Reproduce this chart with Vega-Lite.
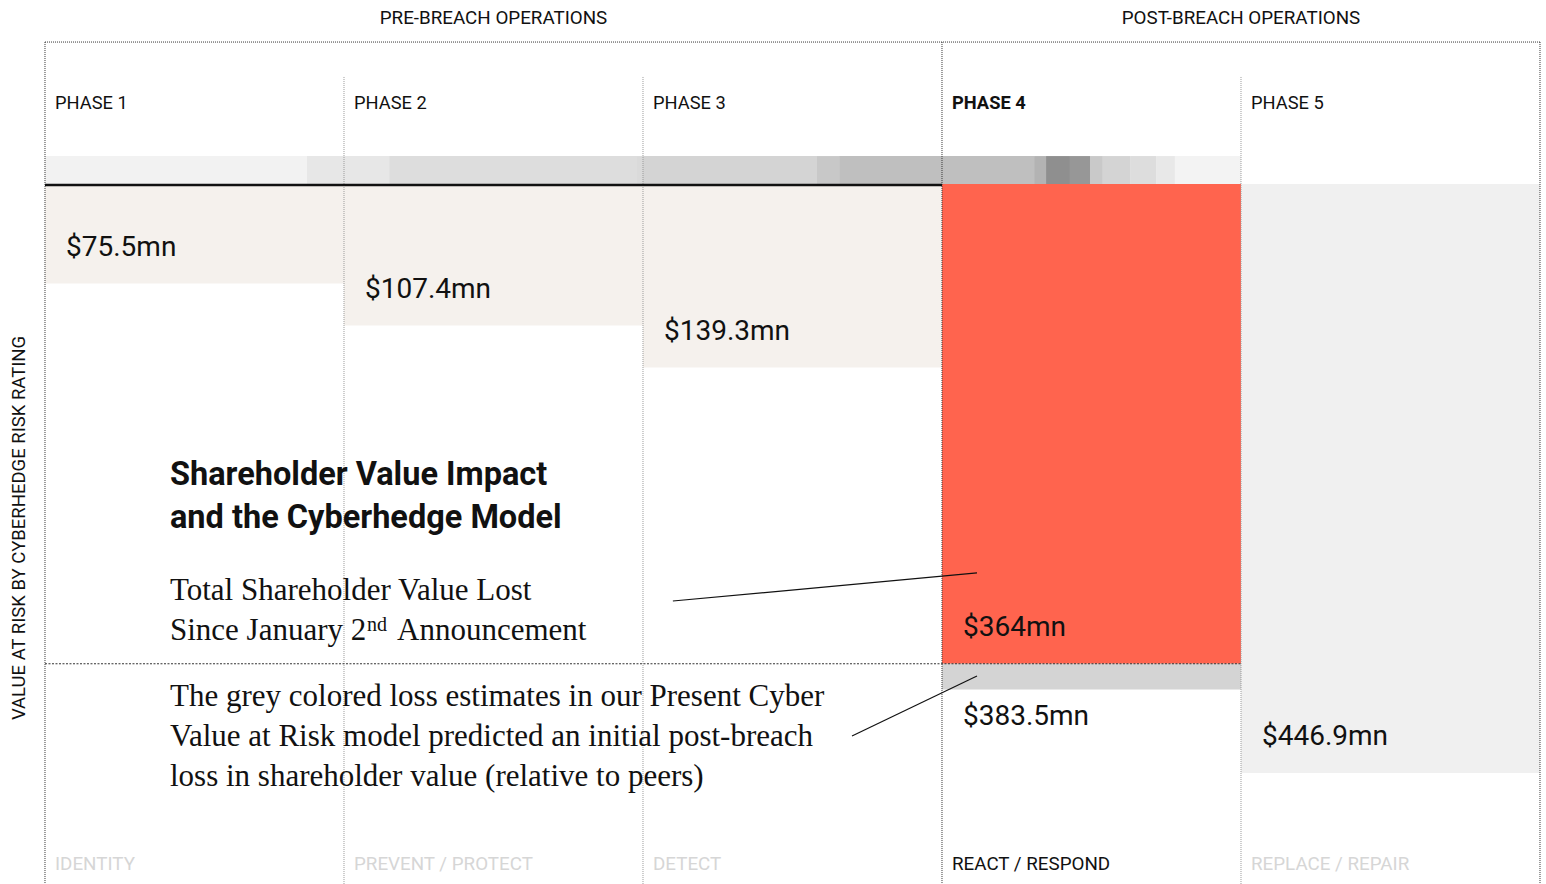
{
  "$schema": "https://vega.github.io/schema/vega-lite/v6.json",
  "width": 1546,
  "height": 884,
  "autosize": "none",
  "padding": 0,
  "background": "white",
  "config": {"view": {"stroke": null}},
  "resolve": {"scale": {"color": "independent"}},
  "datasets": {
    "strip": [
      {"start": 0, "end": 0.876, "rating": 13},
      {"start": 0.876, "end": 1.151, "rating": 24},
      {"start": 1.151, "end": 1.98, "rating": 34},
      {"start": 1.98, "end": 2.0, "rating": 37},
      {"start": 2.0, "end": 2.582, "rating": 43},
      {"start": 2.582, "end": 2.656, "rating": 55},
      {"start": 2.656, "end": 3.308, "rating": 64},
      {"start": 3.308, "end": 3.348, "rating": 76},
      {"start": 3.348, "end": 3.428, "rating": 112},
      {"start": 3.428, "end": 3.495, "rating": 104},
      {"start": 3.495, "end": 3.538, "rating": 54},
      {"start": 3.538, "end": 3.629, "rating": 43},
      {"start": 3.629, "end": 3.716, "rating": 34},
      {"start": 3.716, "end": 3.779, "rating": 23},
      {"start": 3.779, "end": 4.0, "rating": 12}
    ],
    "bars": [
      {"phase": 1, "x0": 0, "x1": 1, "low": 0, "high": 75.5, "kind": "pre", "label": "$75.5mn"},
      {"phase": 2, "x0": 1, "x1": 2, "low": 0, "high": 107.4, "kind": "pre", "label": "$107.4mn"},
      {"phase": 3, "x0": 2, "x1": 3, "low": 0, "high": 139.3, "kind": "pre", "label": "$139.3mn"},
      {"phase": 4, "x0": 3, "x1": 4, "low": 0, "high": 364, "kind": "actual", "label": "$364mn"},
      {"phase": 4, "x0": 3, "x1": 4, "low": 364, "high": 383.5, "kind": "model", "label": "$383.5mn"},
      {"phase": 5, "x0": 4, "x1": 5, "low": 0, "high": 446.9, "kind": "projected", "label": "$446.9mn"}
    ],
    "phases": [
      {"phase": 1, "name": "PHASE 1", "function": "IDENTITY", "start": 0},
      {"phase": 2, "name": "PHASE 2", "function": "PREVENT / PROTECT", "start": 1},
      {"phase": 3, "name": "PHASE 3", "function": "DETECT", "start": 2},
      {"phase": 4, "name": "PHASE 4", "function": "REACT / RESPOND", "start": 3},
      {"phase": 5, "name": "PHASE 5", "function": "REPLACE / REPAIR", "start": 4}
    ],
    "frame": [{"boundary": 0}, {"boundary": 3}, {"boundary": 5}],
    "dividers": [{"boundary": 1}, {"boundary": 2}, {"boundary": 4}],
    "groups": [
      {"text": "PRE-BREACH OPERATIONS", "center": 1.5},
      {"text": "POST-BREACH OPERATIONS", "center": 4}
    ]
  },
  "layer": [
    {
      "data": {"name": "strip"},
      "mark": {"type": "rect"},
      "encoding": {
        "x": {"field": "start", "type": "quantitative", "scale": {"type": "linear", "domain": [-0.1505, 5.0201], "nice": false, "zero": false}, "axis": null},
        "x2": {"field": "end"},
        "y": {"datum": -21.2, "scale": {"type": "linear", "domain": [-139.6, 531.1], "reverse": true, "nice": false, "zero": false}, "axis": null},
        "y2": {"datum": 0},
        "color": {"field": "rating", "type": "quantitative", "scale": {"domain": [0, 255], "range": ["#ffffff", "#000000"], "interpolate": "rgb"}, "legend": null}
      }
    },
    {
      "data": {"name": "bars"},
      "mark": {"type": "rect"},
      "encoding": {
        "x": {"field": "x0", "type": "quantitative", "scale": {"type": "linear", "domain": [-0.1505, 5.0201], "nice": false, "zero": false}, "axis": null},
        "x2": {"field": "x1"},
        "y": {"field": "low", "type": "quantitative", "scale": {"type": "linear", "domain": [-139.6, 531.1], "reverse": true, "nice": false, "zero": false}, "axis": null},
        "y2": {"field": "high"},
        "color": {"field": "kind", "type": "nominal", "scale": {"domain": ["pre", "actual", "model", "projected"], "range": ["#f5f1ed", "#ff644e", "#d4d4d4", "#f0f0f0"]}, "legend": null}
      }
    },
    {
      "data": {"name": "dividers"},
      "mark": {"type": "rule", "color": "#9a9a9a", "strokeWidth": 1, "strokeDash": [1, 1]},
      "encoding": {
        "x": {"field": "boundary", "type": "quantitative"},
        "y": {"datum": -81.2},
        "y2": {"datum": 531.1}
      }
    },
    {
      "data": {"name": "frame"},
      "mark": {"type": "rule", "color": "#333333", "strokeWidth": 1, "strokeDash": [1, 1]},
      "encoding": {
        "x": {"field": "boundary", "type": "quantitative"},
        "y": {"datum": -107.7},
        "y2": {"datum": 531.1}
      }
    },
    {
      "data": {"values": [{"segment": "top"}]},
      "mark": {"type": "rule", "color": "#333333", "strokeWidth": 1, "strokeDash": [1, 1]},
      "encoding": {
        "x": {"datum": 0},
        "x2": {"datum": 5},
        "y": {"datum": -107.7}
      }
    },
    {
      "data": {"values": [{"segment": "baseline"}]},
      "mark": {"type": "rule", "color": "#111111", "strokeWidth": 2.6},
      "encoding": {
        "x": {"datum": 0},
        "x2": {"datum": 3},
        "y": {"datum": 0.8}
      }
    },
    {
      "data": {"values": [{"segment": "loss line"}]},
      "mark": {"type": "rule", "color": "#333333", "strokeWidth": 1, "strokeDash": [2, 1.5]},
      "encoding": {
        "x": {"datum": 0},
        "x2": {"datum": 4},
        "y": {"datum": 364}
      }
    },
    {
      "data": {"values": [{"segment": "pointer 1"}]},
      "mark": {"type": "rule", "color": "#111111", "strokeWidth": 1.2},
      "encoding": {
        "x": {"datum": 2.1},
        "y": {"datum": 316.4},
        "x2": {"datum": 3.117},
        "y2": {"datum": 295.1}
      }
    },
    {
      "data": {"values": [{"segment": "pointer 2"}]},
      "mark": {"type": "rule", "color": "#111111", "strokeWidth": 1.2},
      "encoding": {
        "x": {"datum": 2.699},
        "y": {"datum": 418.8},
        "x2": {"datum": 3.117},
        "y2": {"datum": 373.3}
      }
    },
    {
      "data": {"name": "bars"},
      "transform": [{"filter": "datum.kind !== 'model'"}],
      "mark": {"type": "text", "align": "left", "baseline": "middle", "dx": 21, "dy": -36, "font": "Roboto", "fontSize": 28, "color": "#111111"},
      "encoding": {
        "x": {"field": "x0", "type": "quantitative"},
        "y": {"field": "high", "type": "quantitative"},
        "text": {"field": "label"}
      }
    },
    {
      "data": {"name": "bars"},
      "transform": [{"filter": "datum.kind === 'model'"}],
      "mark": {"type": "text", "align": "left", "baseline": "middle", "dx": 21, "dy": 28, "font": "Roboto", "fontSize": 28, "color": "#111111"},
      "encoding": {
        "x": {"field": "x0", "type": "quantitative"},
        "y": {"field": "high", "type": "quantitative"},
        "text": {"field": "label"}
      }
    },
    {
      "data": {"name": "phases"},
      "transform": [{"filter": "datum.phase !== 4"}],
      "mark": {"type": "text", "align": "left", "baseline": "middle", "dx": 10, "font": "Roboto", "fontSize": 18.3, "color": "#111111"},
      "encoding": {
        "x": {"field": "start", "type": "quantitative"},
        "y": {"datum": -60.9},
        "text": {"field": "name"}
      }
    },
    {
      "data": {"name": "phases"},
      "transform": [{"filter": "datum.phase === 4"}],
      "mark": {"type": "text", "align": "left", "baseline": "middle", "dx": 10, "font": "Roboto", "fontSize": 18.3, "fontWeight": "bold", "color": "#111111"},
      "encoding": {
        "x": {"field": "start", "type": "quantitative"},
        "y": {"datum": -60.9},
        "text": {"field": "name"}
      }
    },
    {
      "data": {"name": "phases"},
      "mark": {"type": "text", "align": "left", "baseline": "middle", "dx": 10, "font": "Roboto", "fontSize": 18.8},
      "encoding": {
        "x": {"field": "start", "type": "quantitative"},
        "y": {"datum": 515.9},
        "text": {"field": "function"},
        "color": {"condition": {"test": "datum.phase === 4", "value": "#111111"}, "value": "#d6d6d6"}
      }
    },
    {
      "data": {"name": "groups"},
      "mark": {"type": "text", "align": "center", "baseline": "middle", "font": "Roboto", "fontSize": 18.8, "color": "#111111"},
      "encoding": {
        "x": {"field": "center", "type": "quantitative"},
        "y": {"datum": -126.3},
        "text": {"field": "text"}
      }
    },
    {
      "data": {"values": [{"text": "VALUE AT RISK BY CYBERHEDGE RISK RATING"}]},
      "mark": {"type": "text", "align": "center", "baseline": "middle", "angle": 270, "font": "Roboto", "fontSize": 18.5, "color": "#111111"},
      "encoding": {
        "x": {"datum": -0.087},
        "y": {"datum": 261},
        "text": {"field": "text"}
      }
    },
    {
      "data": {"values": [{"text": ["Shareholder Value Impact", "and the Cyberhedge Model"]}]},
      "mark": {"type": "text", "align": "left", "baseline": "middle", "font": "Roboto", "fontWeight": "bold", "fontSize": 32.5, "lineHeight": 43, "color": "#111111"},
      "encoding": {
        "x": {"datum": 0.418},
        "y": {"datum": 220.8},
        "text": {"field": "text"}
      }
    },
    {
      "data": {"values": [{"text": "Total Shareholder Value Lost"}]},
      "mark": {"type": "text", "align": "left", "baseline": "middle", "font": "Liberation Serif", "fontSize": 31, "color": "#111111"},
      "encoding": {
        "x": {"datum": 0.418},
        "y": {"datum": 309},
        "text": {"field": "text"}
      }
    },
    {
      "data": {"values": [{"text": "Since January 2"}]},
      "mark": {"type": "text", "align": "left", "baseline": "middle", "font": "Liberation Serif", "fontSize": 31, "color": "#111111"},
      "encoding": {
        "x": {"datum": 0.418},
        "y": {"datum": 339.4},
        "text": {"field": "text"}
      }
    },
    {
      "data": {"values": [{"text": "nd"}]},
      "mark": {"type": "text", "align": "left", "baseline": "middle", "font": "Liberation Serif", "fontSize": 20, "color": "#111111"},
      "encoding": {
        "x": {"datum": 1.0769},
        "y": {"datum": 334.6},
        "text": {"field": "text"}
      }
    },
    {
      "data": {"values": [{"text": "Announcement"}]},
      "mark": {"type": "text", "align": "left", "baseline": "middle", "font": "Liberation Serif", "fontSize": 31, "color": "#111111"},
      "encoding": {
        "x": {"datum": 1.1773},
        "y": {"datum": 339.4},
        "text": {"field": "text"}
      }
    },
    {
      "data": {"values": [{"text": ["The grey colored loss estimates in our Present Cyber", "Value at Risk model predicted an initial post-breach", "loss in shareholder value (relative to peers)"]}]},
      "mark": {"type": "text", "align": "left", "baseline": "middle", "font": "Liberation Serif", "fontSize": 31, "lineHeight": 40, "color": "#111111"},
      "encoding": {
        "x": {"datum": 0.418},
        "y": {"datum": 389.5},
        "text": {"field": "text"}
      }
    }
  ]
}
